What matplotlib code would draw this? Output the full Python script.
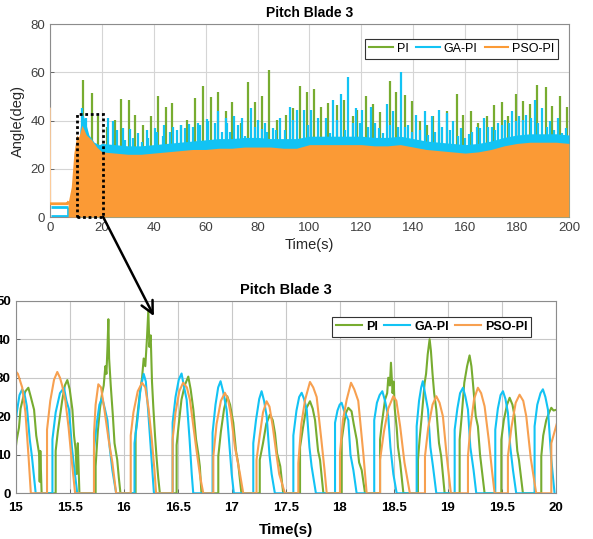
import matplotlib.pyplot as plt
from matplotlib.patches import Rectangle, ConnectionPatch

plt.rcParams['font.family'] = ['Liberation Sans', 'DejaVu Sans']

GREEN = '#77AC30'
CYAN = '#12C3F4'
ORANGE = '#FB9A35'

# ==== Top panel: whole run, 0-200 s ====
# PI: tall spikes (time, peak)
pi_spike_t = [12.8, 16.2, 18.6, 22.1, 25.0, 27.2, 30.3, 32.8, 36.0, 38.9,
              41.7, 44.6, 47.1, 50.3, 52.7, 55.9, 59.1, 62.0, 64.9, 67.7,
              70.3, 73.5, 76.3, 79.1, 81.8, 84.4, 87.5, 90.9, 93.5, 96.3,
              99.0, 101.6, 104.3, 107.3, 110.5, 113.3, 116.6, 118.2, 121.7, 124.6,
              127.3, 131.0, 133.2, 136.7, 139.5, 142.5, 145.3, 147.7, 150.0, 152.9,
              156.7, 159.3, 162.2, 165.1, 168.3, 171.1, 174.0, 176.6, 179.4, 182.2,
              185.0, 187.5, 191.0, 193.5, 196.4, 199.1]
pi_spike_y = [57, 51.5, 42, 37.5, 40.3, 49, 48.6, 42.4, 38.2, 41.7,
              50, 45.8, 47.2, 38, 40.3, 49.3, 54.5, 49.7, 51.7, 43.8,
              47.5, 38.9, 55.8, 47.5, 50, 61, 40.3, 42.4, 45.1, 54.2,
              52, 53.1, 45.8, 47.3, 46.5, 48.6, 41.7, 44.5, 50.2, 47,
              43.5, 56.5, 51.8, 50.7, 48, 40, 38, 41.7, 38.9, 43.8,
              51, 42.4, 43.8, 39, 41.7, 46.5, 47.5, 41.7, 51, 48.3,
              47, 54.9, 53.8, 45.9, 50.2, 45.8]

# GA-PI: tall spikes, medium columns and upper edge of the dense band
ga_spike_t = [12.4, 14.0, 22.5, 24.4, 28.0, 31.0, 34.0, 37.5, 40.5, 44.0,
              47.5, 50.5, 53.5, 57.0, 60.5, 64.9, 68.0, 71.0, 74.0, 77.5,
              80.2, 83.0, 86.0, 88.8, 92.5, 95.3, 97.9, 100.4, 103.4, 106.2,
              109.2, 112.2, 115.0, 117.9, 120.1, 123.6, 126.6, 129.7, 132.3, 135.3,
              138.1, 141.0, 144.5, 147.1, 149.9, 152.8, 155.4, 158.4, 161.4, 164.4,
              167.4, 170.2, 172.8, 175.4, 178.2, 180.7, 183.6, 186.9, 189.7, 192.7,
              195.9, 198.7]
ga_spike_y = [45, 41, 41, 39.6, 37, 36.5, 35, 36, 37, 38,
              37.5, 38, 38.5, 39, 40.5, 43.8, 41, 42, 41, 45,
              40.3, 39, 36.8, 41, 45.8, 44.5, 44.2, 44.5, 41, 41,
              48.6, 51, 58, 45.1, 44.5, 45.8, 36.8, 47, 44, 60,
              38, 42.4, 43.8, 41.7, 44.5, 43.1, 39.6, 36.8, 34.5, 37.5,
              41, 37.5, 38.9, 40.3, 43.8, 42, 42.4, 48.6, 45.1, 39.6,
              41, 36.8]
ga_col_t = [25.7, 28.9, 32.1, 35.3, 37.9, 41.1, 43.7, 46.2, 48.8, 52.0,
            55.2, 57.8, 61.0, 63.6, 66.2, 68.1, 69.4, 72.6, 75.1, 79.0,
            81.6, 83.5, 87.0, 90.6, 93.8, 99.5, 107.9, 110.7, 113.7, 116.6,
            119.5, 122.7, 125.2, 128.2, 131.0, 134.2, 136.8, 139.6, 142.6, 145.8,
            148.4, 151.2, 154.2, 157.1, 160.0, 162.7, 165.7, 168.9, 171.5, 174.1,
            176.9, 179.5, 182.4, 185.4, 188.2, 191.4, 194.4, 197.2]
ga_col_y = [36.1, 32, 32.7, 31, 32.7, 35.4, 33.4, 35.4, 36.1, 36.8,
            37.5, 38.2, 39.6, 38.9, 35.1, 38.9, 35.4, 38.2, 33.4, 37.5,
            36.5, 35.4, 36, 36.1, 40.3, 38.2, 34.7, 40.3, 36.1, 38.9,
            38.9, 37.5, 38.9, 34.7, 38.2, 37.5, 37.5, 35.4, 36.1, 34,
            35.4, 37.5, 36.1, 33.4, 32.7, 35.4, 36.8, 37.5, 36.1, 38.2,
            38.9, 39.6, 40.3, 41, 38.9, 37.5, 36.1, 34.7]
ga_band_t = [11.5, 12.5, 13.5, 15, 17, 19,
             20, 25, 30, 35, 40, 45, 50, 55, 60, 65, 70, 75, 80, 85, 90, 95,
             100, 105, 110, 115, 120, 125, 130, 135, 140, 145, 150, 155, 160,
             165, 170, 175, 180, 185, 190, 195, 200]
ga_band_y = [36, 43, 40, 34, 31, 30,
             30.5, 30, 29.5, 29.5, 30, 30.5, 31, 31.5, 32, 32.5, 32.5, 33, 33, 32.5, 32.5, 32.5,
             33.5, 33.5, 33.5, 33.5, 33.5, 33, 33, 33.5, 32.5, 31.5, 31, 30.5, 30,
             30.5, 31.5, 33, 34, 34.5, 34.5, 34.5, 34]
ga_start_t = [0.3, 7.0]
ga_start_hi = 4.0
ga_start_lo = 0.5

# PSO-PI: start-up level, then the dense band
pso_start_t = [0, 0.1, 6.8, 7.0]
pso_start_y = [45, 5.5, 5.5, 6]
pso_band_t = [7, 8.2, 9.2, 10.3, 11, 11.6, 12.3, 13, 14, 16, 18,
              20, 25, 30, 35, 40, 45, 50, 55, 60, 65, 70, 75, 80, 85, 90, 95,
              100, 105, 110, 115, 120, 125, 130, 135, 140, 145, 150, 155, 160,
              165, 170, 175, 180, 185, 190, 195, 200]
pso_band_y = [6, 12.5, 26.5, 34, 33, 35, 38, 36.5, 34, 32, 29,
              27, 26.5, 26, 26, 26.5, 27, 27.5, 28, 28, 28.5, 28.5, 29, 29, 29, 28.5, 28.5,
              30, 30, 30, 30, 30, 29.5, 29.5, 30, 29, 28, 27.5, 27, 26.5,
              27, 28, 29.5, 30.5, 31, 31, 31, 30.5]

# ==== Bottom panel: zoom 15-20 s ====
pi_t = [14.99, 15.01, 15.03, 15.045, 15.07, 15.09, 15.117, 15.14, 15.17, 15.19, 15.216, 15.222, 15.228, 15.24,
        15.37, 15.37, 15.39, 15.41, 15.43, 15.455, 15.478, 15.5, 15.525, 15.54, 15.555, 15.565, 15.575, 15.59,
        15.74, 15.74, 15.76, 15.78, 15.8, 15.815, 15.83, 15.84, 15.85, 15.858, 15.865, 15.88, 15.9, 15.915, 15.94, 15.955, 15.97,
        16.11, 16.11, 16.13, 16.15, 16.17, 16.185, 16.2, 16.215, 16.228, 16.238, 16.25, 16.262, 16.275, 16.29, 16.305, 16.32, 16.335,
        16.49, 16.49, 16.51, 16.535, 16.565, 16.598, 16.62, 16.645, 16.67, 16.69, 16.705, 16.72,
        16.876, 16.876, 16.9, 16.93, 16.959, 16.985, 17.015, 17.04, 17.06, 17.09,
        17.26, 17.26, 17.29, 17.32, 17.354, 17.38, 17.401, 17.42, 17.45, 17.477,
        17.633, 17.633, 17.66, 17.69, 17.725, 17.75, 17.772, 17.8, 17.818, 17.849,
        18.019, 18.019, 18.04, 18.06, 18.08, 18.11, 18.13, 18.158, 18.18, 18.204, 18.235,
        18.374, 18.374, 18.39, 18.42, 18.44, 18.45, 18.465, 18.475, 18.49, 18.5, 18.51, 18.528, 18.54, 18.56, 18.59,
        18.725, 18.725, 18.74, 18.76, 18.787, 18.8, 18.815, 18.833, 18.845, 18.86, 18.875, 18.895, 18.92, 18.94, 18.972,
        19.111, 19.111, 19.13, 19.154, 19.18, 19.203, 19.22, 19.234, 19.26, 19.28, 19.3, 19.32, 19.342,
        19.497, 19.497, 19.52, 19.55, 19.574, 19.6, 19.62, 19.645, 19.66, 19.697,
        19.867, 19.867, 19.885, 19.913, 19.94, 19.96, 19.98, 20.01]
pi_y = [9.6, 14, 17, 22, 25, 26.5, 27.4, 25, 21.7, 15, 10.4, 3, 11, 0,
        0, 11, 16, 20, 24, 28, 29.4, 27, 21.7, 15, 11.3, 5, 13, 0,
        0, 7, 16, 22, 26, 28, 33, 31, 38, 45.2, 35, 28, 20, 13, 8.7, 4, 0,
        0, 15.5, 21, 26, 30, 35, 33, 40, 47.5, 38, 41, 29, 22, 15, 9, 4, 0,
        0, 12.5, 18, 24.3, 28, 30.3, 27, 21.7, 14, 10.4, 7, 0,
        0, 9.6, 16, 22, 25.2, 23, 18.3, 11, 7.8, 0,
        0, 8.7, 13, 18, 20.4, 19, 15.6, 10.4, 7, 0,
        0, 12, 17, 22, 23.9, 22, 19, 11, 8.7, 0,
        0, 13.9, 18, 21, 22.2, 21.3, 18, 13.9, 8, 6, 0,
        0, 13.9, 18, 24.3, 26, 30, 28, 33.9, 26, 29, 22, 17, 12, 8, 0,
        0, 8.7, 14, 20, 28.7, 31, 36, 40, 37, 31, 26, 21.7, 13, 9.6, 0,
        0, 13.9, 20, 28.7, 33, 35.8, 33, 28.7, 20, 17.4, 10, 5.2, 0,
        0, 13.9, 19, 23, 24.8, 23, 20, 11, 8.7, 0,
        0, 9.6, 15, 19, 21, 22.2, 21.5, 21.7]

ga_t = [14.99, 15.01, 15.035, 15.06, 15.08, 15.103, 15.13, 15.15, 15.185,
        15.34, 15.34, 15.37, 15.41, 15.447, 15.47, 15.494, 15.52, 15.54, 15.57,
        15.725, 15.725, 15.75, 15.775, 15.8, 15.825, 15.849, 15.87, 15.895, 15.93,
        16.1, 16.1, 16.127, 16.155, 16.185, 16.205, 16.225, 16.25, 16.28,
        16.453, 16.453, 16.48, 16.51, 16.536, 16.556, 16.583, 16.61, 16.63, 16.644,
        16.823, 16.823, 16.85, 16.875, 16.897, 16.92, 16.953, 16.98, 17.0, 17.02,
        17.2, 17.2, 17.225, 17.255, 17.277, 17.3, 17.324, 17.35, 17.37, 17.4,
        17.571, 17.571, 17.6, 17.625, 17.648, 17.67, 17.695, 17.72, 17.74, 17.78,
        17.957, 17.957, 17.98, 18.0, 18.018, 18.04, 18.08, 18.1, 18.127, 18.157,
        18.32, 18.32, 18.345, 18.37, 18.395, 18.42, 18.45, 18.47, 18.497, 18.528,
        18.713, 18.713, 18.735, 18.755, 18.77, 18.79, 18.818, 18.84, 18.864, 18.895,
        19.065, 19.065, 19.09, 19.115, 19.142, 19.165, 19.188, 19.21, 19.24, 19.265,
        19.441, 19.441, 19.465, 19.49, 19.512, 19.535, 19.558, 19.58, 19.605, 19.635,
        19.805, 19.805, 19.83, 19.86, 19.882, 19.905, 19.929, 19.95, 19.96, 19.99]
ga_y = [15, 21, 25.5, 27, 26, 22.6, 14, 9.6, 0,
        0, 14, 21, 26, 27.4, 24, 21.7, 12, 7, 0,
        0, 11.3, 18, 23, 24.8, 22, 19, 12, 6, 0,
        0, 13, 19, 27, 31, 29, 22, 12, 0,
        0, 18.3, 25, 29.5, 31.1, 28, 24.3, 14, 5, 0,
        0, 15.7, 23, 27.5, 29.1, 26.5, 21.7, 12, 5, 0,
        0, 13, 19, 24.5, 26.5, 24, 20, 10, 5, 0,
        0, 15, 21.5, 25, 26.1, 24.5, 21.7, 12, 7, 0,
        0, 18.3, 21.5, 23, 23.5, 21.5, 19, 10, 6, 0,
        0, 19, 23.5, 25.5, 26.5, 24, 20, 12, 5, 0,
        0, 17.4, 24, 27.5, 29.1, 26, 21.7, 12, 7, 0,
        0, 16.5, 22, 26, 27.4, 25, 21.7, 12, 6, 0,
        0, 16.5, 22, 25.5, 26.5, 24.5, 20.9, 12, 6, 0,
        0, 17.4, 23, 26, 27, 25, 21.7, 13, 8.7, 0]

pso_t = [14.99, 15.02, 15.06, 15.09, 15.12, 15.14,
         15.29, 15.29, 15.32, 15.355, 15.385, 15.41, 15.43, 15.46, 15.49, 15.51, 15.535, 15.55,
         15.725, 15.725, 15.74, 15.765, 15.79, 15.82, 15.86, 15.895, 15.93,
         16.065, 16.065, 16.09, 16.13, 16.17, 16.2, 16.23, 16.26, 16.285, 16.3,
         16.453, 16.453, 16.48, 16.515, 16.55, 16.585, 16.613, 16.645, 16.675, 16.71, 16.737,
         16.83, 16.83, 16.86, 16.9, 16.937, 16.965, 16.995, 17.03, 17.077, 17.107,
         17.23, 17.23, 17.26, 17.29, 17.323, 17.35, 17.38, 17.415, 17.44, 17.493,
         17.617, 17.617, 17.645, 17.68, 17.725, 17.755, 17.787, 17.83, 17.86, 17.88,
         18.003, 18.003, 18.03, 18.065, 18.105, 18.135, 18.172, 18.2, 18.22, 18.25,
         18.374, 18.374, 18.41, 18.45, 18.497, 18.525, 18.56, 18.6, 18.65,
         18.79, 18.79, 18.82, 18.86, 18.895, 18.925, 18.956, 18.99, 19.03,
         19.188, 19.188, 19.21, 19.245, 19.28, 19.31, 19.342, 19.38, 19.41, 19.435,
         19.558, 19.558, 19.59, 19.63, 19.666, 19.7, 19.728, 19.77, 19.82,
         19.96, 19.96, 20.01]
pso_y = [32, 31, 27.5, 21, 9, 0,
         0, 16.5, 24, 29.5, 31.5, 30, 28, 24, 17, 11, 4, 0,
         0, 15.5, 23, 28.3, 27.5, 22, 14, 8, 0,
         0, 15, 21, 26.5, 28.7, 27.5, 22, 14, 6, 0,
         0, 14, 21, 26.5, 28.7, 27.5, 24.3, 17.5, 11, 4, 0,
         0, 9.6, 18, 24, 26.1, 24.5, 20, 12, 5, 0,
         0, 8.7, 15, 21, 23.9, 22.5, 17.4, 10, 5, 0,
         0, 7.8, 18, 24.3, 28.9, 27.5, 25, 14, 6, 0,
         0, 10.4, 19, 24.3, 28.7, 27, 24, 16, 10, 0,
         0, 8.7, 16, 22, 25.2, 24, 17.4, 8, 0,
         0, 9.6, 17, 23, 25.2, 23.5, 20, 10, 0,
         0, 9.6, 17, 24.5, 27.4, 26, 22.6, 14, 6, 0,
         0, 9.6, 17, 23.5, 25.6, 24, 20, 9, 0,
         0, 13, 18]

fig = plt.figure(figsize=(5.93, 5.39), dpi=100)
ax1 = fig.add_axes([0.0843, 0.5974, 0.8752, 0.358])
ax2 = fig.add_axes([0.0265, 0.0848, 0.9105, 0.3573])

# ---- top panel ----
ax1.vlines(pi_spike_t, 0, pi_spike_y, color=GREEN, lw=1.6, zorder=2)
ax1.fill_between(ga_band_t, 0, ga_band_y, color=CYAN, lw=0, zorder=3)
ax1.vlines(ga_spike_t, 0, ga_spike_y, color=CYAN, lw=1.6, zorder=3)
ax1.vlines(ga_col_t, 0, ga_col_y, color=CYAN, lw=1.6, zorder=3)
ax1.hlines([ga_start_hi, ga_start_lo], ga_start_t[0], ga_start_t[1], color=CYAN, lw=2, zorder=3)
ax1.vlines(ga_start_t[1], 0, ga_start_hi, color=CYAN, lw=2, zorder=3)
ax1.plot(pso_start_t[:2], pso_start_y[:2], color='#FCCB9A', lw=1.2, zorder=4)
ax1.plot(pso_start_t[1:], pso_start_y[1:], color=ORANGE, lw=2, zorder=4)
ax1.fill_between(pso_band_t, 0, pso_band_y, color=ORANGE, lw=0, zorder=4)

ax1.plot([], [], color=GREEN, lw=1.5, label='PI')
ax1.plot([], [], color=CYAN, lw=1.5, label='GA-PI')
ax1.plot([], [], color=ORANGE, lw=1.5, label='PSO-PI')

ax1.set_xlim(0, 200)
ax1.set_ylim(0, 80)
ax1.set_xticks(range(0, 201, 20))
ax1.set_yticks(range(0, 81, 20))
ax1.set_title('Pitch Blade 3', fontsize=10, fontweight='bold', pad=5)
ax1.set_xlabel('Time(s)', fontsize=10.5, color='#262626', labelpad=3)
ax1.set_ylabel('Angle(deg)', fontsize=10.5, color='#262626', labelpad=4)
ax1.tick_params(labelsize=9.5, labelcolor='#404040', direction='in', length=3, width=0.6, color='#555555')
ax1.grid(True, color='#D5D5D5', lw=0.8)
ax1.set_axisbelow(True)
for s in ax1.spines.values():
    s.set_color('#8C8C8C')
    s.set_linewidth(0.8)
leg1 = ax1.legend(loc='upper right', bbox_to_anchor=(0.979, 0.922), ncol=3, fontsize=9,
                  frameon=True, fancybox=False, framealpha=1, edgecolor='#333333',
                  borderpad=0.3, handlelength=1.9, handletextpad=0.3, columnspacing=0.6,
                  borderaxespad=0)
leg1.get_frame().set_linewidth(0.8)

# zoom box
ax1.add_patch(Rectangle((10.5, 0), 10, 42.8, fill=False, ec='black', lw=2,
                        ls=(0, (1, 1)), zorder=10, clip_on=False))

# ---- bottom panel ----
ax2.plot(pi_t, pi_y, color=GREEN, lw=1.5, label='PI')
ax2.plot(ga_t, ga_y, color=CYAN, lw=1.5, label='GA-PI')
ax2.plot(pso_t, pso_y, color='#F7A050', lw=1.5, label='PSO-PI')

ax2.set_xlim(15, 20)
ax2.set_ylim(0, 50)
ax2.set_xticks([15, 15.5, 16, 16.5, 17, 17.5, 18, 18.5, 19, 19.5, 20])
ax2.set_xticklabels(['15', '15.5', '16', '16.5', '17', '17.5', '18', '18.5', '19', '19.5', '20'])
ax2.set_yticks(range(0, 51, 10))
ax2.set_title('Pitch Blade 3', fontsize=10.5, fontweight='bold', pad=5)
ax2.set_xlabel('Time(s)', fontsize=11, fontweight='bold', labelpad=7)
ax2.tick_params(labelsize=9.5, direction='in', length=3, width=0.6, color='#555555')
ax2.tick_params(axis='x', pad=6)
for lab in ax2.get_xticklabels() + ax2.get_yticklabels():
    lab.set_fontweight('bold')
ax2.grid(True, color='#C8C8C8', lw=0.8)
ax2.set_axisbelow(True)
for s in ax2.spines.values():
    s.set_color('#8C8C8C')
    s.set_linewidth(0.8)
leg2 = ax2.legend(loc='upper right', bbox_to_anchor=(0.955, 0.915), ncol=3,
                  prop={'size': 9, 'weight': 'bold'},
                  frameon=True, fancybox=False, framealpha=1, edgecolor='#333333',
                  borderpad=0.3, handlelength=2.1, handletextpad=0.3, columnspacing=0.5,
                  borderaxespad=0)
leg2.get_frame().set_linewidth(0.8)

# arrow from the zoom box down to the detail panel
arrow = ConnectionPatch(xyA=(20.5, 0), coordsA=ax1.transData,
                        xyB=(16.28, 46), coordsB=ax2.transData,
                        arrowstyle='->', lw=1.8, color='black', mutation_scale=22,
                        shrinkA=0, shrinkB=0, zorder=20)
fig.add_artist(arrow)

fig.savefig('out.png', dpi=100)
